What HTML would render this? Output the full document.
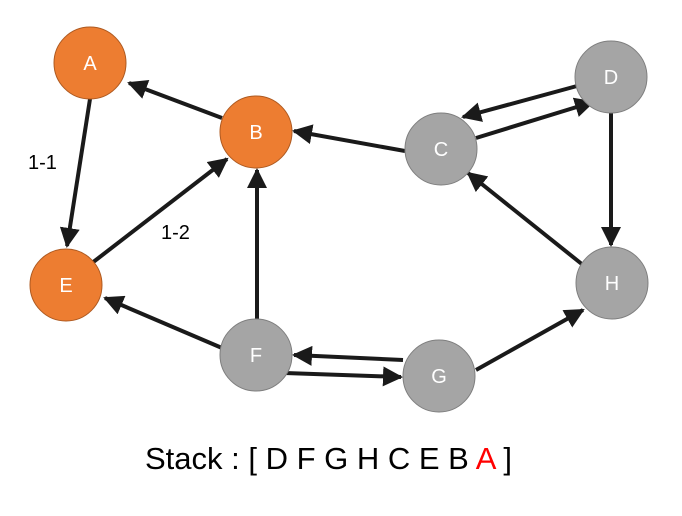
<!DOCTYPE html>
<html><head><style>body{margin:0;background:#fff}svg{display:block}</style></head><body>
<svg width="682" height="516" viewBox="0 0 682 516" xmlns="http://www.w3.org/2000/svg" font-family="Liberation Sans, sans-serif">
<defs><marker id="ar" markerWidth="5" markerHeight="5" refX="4.5" refY="2.5" orient="auto" markerUnits="strokeWidth"><path d="M0,0 L5,2.5 L0,5 z" fill="#1a1a1a"/></marker></defs>
<g stroke="#1a1a1a" stroke-width="4" marker-end="url(#ar)" fill="none">
<line x1="222" y1="118" x2="129" y2="83"/>
<line x1="90" y1="99" x2="67" y2="246"/>
<line x1="92" y1="263" x2="227" y2="159"/>
<line x1="257" y1="319" x2="257" y2="170"/>
<line x1="222" y1="348" x2="105" y2="298"/>
<line x1="405" y1="151" x2="294" y2="131"/>
<line x1="577" y1="86" x2="463" y2="117"/>
<line x1="476" y1="138" x2="593" y2="102"/>
<line x1="611" y1="113" x2="611" y2="245"/>
<line x1="583" y1="265" x2="468" y2="173"/>
<line x1="285" y1="373" x2="401" y2="377"/>
<line x1="403" y1="360" x2="294" y2="355"/>
<line x1="476" y1="370" x2="583" y2="310"/>
</g>
<g stroke-width="1">
<circle cx="90" cy="63" r="36" fill="#ed7d31" stroke="#ae5a21"/>
<circle cx="256" cy="132" r="36" fill="#ed7d31" stroke="#ae5a21"/>
<circle cx="66" cy="285" r="36" fill="#ed7d31" stroke="#ae5a21"/>
<circle cx="441" cy="149" r="36" fill="#a5a5a5" stroke="#7f7f7f"/>
<circle cx="611" cy="77" r="36" fill="#a5a5a5" stroke="#7f7f7f"/>
<circle cx="612" cy="283" r="36" fill="#a5a5a5" stroke="#7f7f7f"/>
<circle cx="256" cy="355" r="36" fill="#a5a5a5" stroke="#7f7f7f"/>
<circle cx="439" cy="376" r="36" fill="#a5a5a5" stroke="#7f7f7f"/>
</g>
<g fill="#fff" font-size="20" text-anchor="middle">
<text x="90" y="70">A</text><text x="256" y="139">B</text><text x="66" y="292">E</text>
<text x="441" y="156">C</text><text x="611" y="84">D</text><text x="612" y="290">H</text>
<text x="256" y="362">F</text><text x="439" y="383">G</text>
</g>
<g fill="#000" font-size="20">
<text x="28" y="169">1-1</text><text x="161" y="239">1-2</text>
</g>
<text x="145" y="469" font-size="31" fill="#000" xml:space="preserve">Stack : [ D F G H C E B <tspan fill="#ff0000">A</tspan> ]</text>
</svg>
</body></html>
